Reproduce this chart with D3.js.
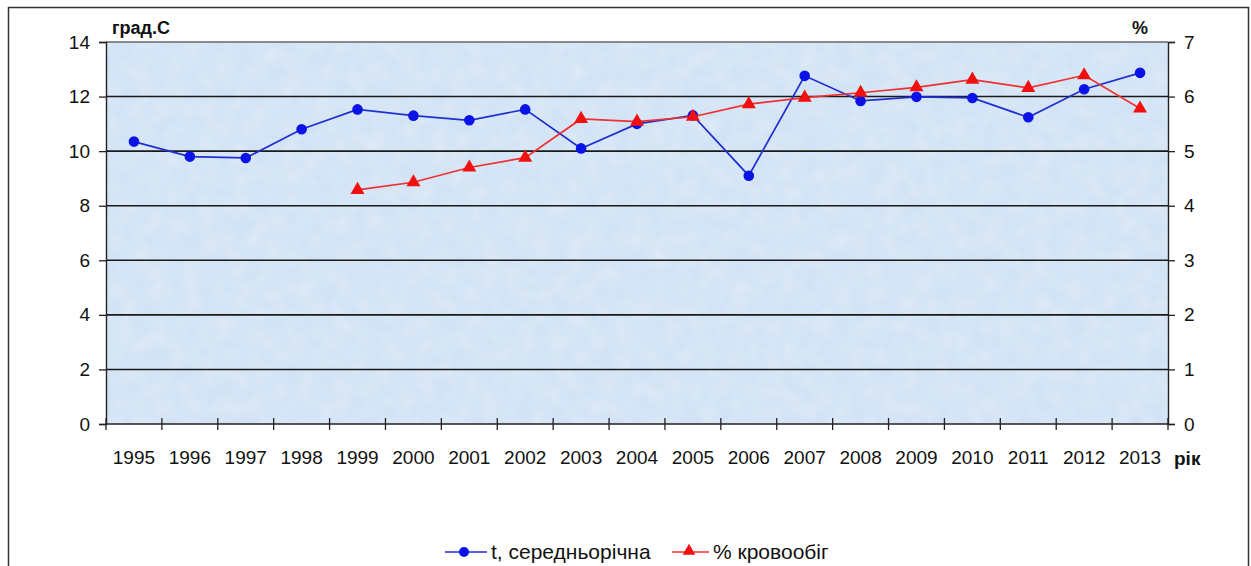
<!DOCTYPE html>
<html><head><meta charset="utf-8">
<script src="https://cdn.jsdelivr.net/npm/d3@7"></script>
<style>
body{margin:0;background:#fff;}
svg text{font-family:"Liberation Sans",Arial,sans-serif;fill:#111;}
</style></head><body>
<svg id="c" width="1251" height="566"></svg>
<script>
const years = ["1995","1996","1997","1998","1999","2000","2001","2002","2003","2004","2005","2006","2007","2008","2009","2010","2011","2012","2013"];
const temp = [10.35,9.8,9.75,10.8,11.53,11.3,11.13,11.53,10.1,11.0,11.31,9.1,12.76,11.84,11.99,11.95,11.24,12.27,12.87];
const blood = [null,null,null,null,4.29,4.43,4.70,4.88,5.59,5.54,5.63,5.86,5.98,6.07,6.17,6.31,6.16,6.39,5.78];
const leftTicks = [0,2,4,6,8,10,12,14];
const rightTicks = [0,1,2,3,4,5,6,7];
const seriesNames = ["t, середньорічна","% кровообіг"];

const svg = d3.select("#c");
const L=106,R=1168,T=42,B=424;
// outer frame
svg.append("rect").attr("x",8.5).attr("y",7.5).attr("width",1240).attr("height",580)
  .attr("fill","#fff").attr("stroke","#333").attr("stroke-width",1.5);

const x = d3.scaleBand().domain(years).range([L,R]).padding(0);
const yL = d3.scaleLinear().domain([0,14]).range([B,T]);
const yR = d3.scaleLinear().domain([0,7]).range([B,T]);

const defs = svg.append("defs");
const f = defs.append("filter").attr("id","tex").attr("x",0).attr("y",0).attr("width",1).attr("height",1);
f.append("feTurbulence").attr("type","fractalNoise").attr("baseFrequency",0.06).attr("numOctaves",2).attr("seed",3).attr("result","n");
f.append("feColorMatrix").attr("in","n").attr("type","matrix")
  .attr("values","0 0 0 0 1  0 0 0 0 1  0 0 0 0 1  0 0 0 0.35 -0.1").attr("result","w");
f.append("feComposite").attr("in","w").attr("in2","SourceGraphic").attr("operator","atop");

svg.append("rect").attr("x",L).attr("y",T).attr("width",R-L).attr("height",B-T)
  .attr("fill","#d2e3f5").attr("filter","url(#tex)");

// gridlines
svg.append("g").selectAll("line").data(leftTicks.filter(d=>d>0)).join("line")
  .attr("x1",L).attr("x2",R).attr("y1",d=>yL(d)).attr("y2",d=>yL(d))
  .attr("stroke",d=>d===14?"#666":"#1a1a1a").attr("stroke-width",1.6);

// left axis
const gl = svg.append("g").attr("transform",`translate(${L},0)`)
  .call(d3.axisLeft(yL).tickValues(leftTicks).tickSize(7).tickPadding(9).tickFormat(d3.format("d")));
gl.select(".domain").attr("stroke","#222").attr("stroke-width",1.4);
gl.selectAll("text").style("font-size","19px").attr("fill","#111");
gl.selectAll(".tick line").attr("stroke","#222").attr("stroke-width",1.3);

// right axis
const gr = svg.append("g").attr("transform",`translate(${R},0)`)
  .call(d3.axisRight(yR).tickValues(rightTicks).tickSize(7).tickPadding(9).tickFormat(d3.format("d")));
gr.select(".domain").attr("stroke","#222").attr("stroke-width",1.4);
gr.selectAll("text").style("font-size","19px").attr("fill","#111");
gr.selectAll(".tick line").attr("stroke","#222").attr("stroke-width",1.3);

// bottom axis
const xb = svg.append("g").attr("transform",`translate(0,${B})`);
xb.append("line").attr("x1",L).attr("x2",R).attr("stroke","#222").attr("stroke-width",1.6);
const bounds = years.map(y=>x(y)).concat([R]);
xb.selectAll("line.t").data(bounds).join("line").attr("class","t")
  .attr("x1",d=>d).attr("x2",d=>d).attr("y1",-6).attr("y2",6).attr("stroke","#222").attr("stroke-width",1.3);
xb.selectAll("text.l").data(years).join("text").attr("class","l")
  .attr("x",d=>x(d)+x.bandwidth()/2).attr("y",40).attr("text-anchor","middle")
  .style("font-size","19px").text(d=>d);

// axis titles
svg.append("text").attr("x",112).attr("y",34).style("font-size","18px").style("font-weight","bold").text("град.С");
svg.append("text").attr("x",1132).attr("y",34).style("font-size","18px").style("font-weight","bold").text("%");
svg.append("text").attr("x",1174).attr("y",465).style("font-size","19px").style("font-weight","bold").text("рік");

const cx = d=>x(d)+x.bandwidth()/2;
// temperature line
const lineT = d3.line().x((d,i)=>cx(years[i])).y(d=>yL(d));
svg.append("path").datum(temp).attr("d",lineT).attr("fill","none").attr("stroke","#1f2fd0").attr("stroke-width",1.7);
svg.append("g").selectAll("circle").data(temp).join("circle")
  .attr("cx",(d,i)=>cx(years[i])).attr("cy",d=>yL(d)).attr("r",5.3).attr("fill","#0a14e6");

// blood line
const bData = blood.map((v,i)=>({y:years[i],v})).filter(d=>d.v!=null);
const lineB = d3.line().x(d=>cx(d.y)).y(d=>yR(d.v));
svg.append("path").datum(bData).attr("d",lineB).attr("fill","none").attr("stroke","#f03030").attr("stroke-width",1.7);
const tri = d3.symbol().type(d3.symbolTriangle).size(85);
svg.append("g").selectAll("path").data(bData).join("path")
  .attr("d",tri).attr("transform",d=>`translate(${cx(d.y)},${yR(d.v)})`).attr("fill","#f01010");

// legend
const lg = svg.append("g");
lg.append("line").attr("x1",445).attr("x2",487).attr("y1",552).attr("y2",552).attr("stroke","#1f2fd0").attr("stroke-width",1.7);
lg.append("circle").attr("cx",464).attr("cy",552).attr("r",5).attr("fill","#0a14e6");
lg.append("text").attr("x",491).attr("y",559).style("font-size","21px").text(seriesNames[0]);
lg.append("line").attr("x1",672).attr("x2",709).attr("y1",552).attr("y2",552).attr("stroke","#f03030").attr("stroke-width",1.7);
lg.append("path").attr("d",d3.symbol().type(d3.symbolTriangle).size(70)).attr("transform","translate(689,551)").attr("fill","#f01010");
lg.append("text").attr("x",713).attr("y",559).style("font-size","21px").text(seriesNames[1]);
</script>
</body></html>
